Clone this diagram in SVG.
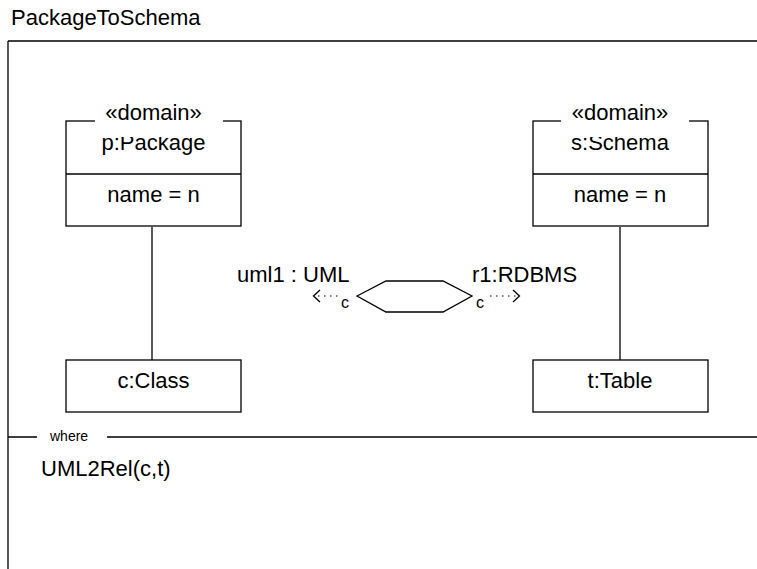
<svg xmlns="http://www.w3.org/2000/svg" width="757" height="569" viewBox="0 0 757 569">
<style>
text{font-family:"Liberation Sans",Arial,sans-serif;fill:#000}
.t22{font-size:22px}
.t16{font-size:16px}
.t14{font-size:14px}
.box{fill:#fff;stroke:#000;stroke-width:1.3}
.ln{stroke:#000;stroke-width:1.3;fill:none}
.dot{stroke:#000;stroke-width:1;stroke-dasharray:1.5,4.5;fill:none}
</style>
<rect width="757" height="569" fill="#fff"/>
<g id="frame">
<text class="t22" x="11" y="25">PackageToSchema</text>
<path class="ln" d="M8,41 H757 M8,41 V569"/>
<path class="ln" d="M8,437 H37 M107,437 H757"/>
<text class="t14" x="50" y="441">where</text>
<text class="t22" x="41" y="476">UML2Rel(c,t)</text>
</g>
<g id="connectors">
<line class="ln" x1="152" y1="227" x2="152" y2="360"/>
<line class="ln" x1="620" y1="227" x2="620" y2="360"/>
<line class="dot" x1="318" y1="296" x2="342" y2="296"/>
<path class="ln" stroke-width="1" d="M320,290 L313.5,296 L320,302"/>
<text class="t16" x="341" y="308">c</text>
<line class="dot" x1="490" y1="296" x2="516" y2="296"/>
<path class="ln" stroke-width="1" d="M513,290 L519.5,296 L513,302"/>
<text class="t16" x="476" y="308">c</text>
</g>
<g id="package">
<rect class="box" x="66" y="121" width="175" height="105"/>
<line class="ln" x1="66" y1="174" x2="241" y2="174"/>
<text class="t22" x="153.5" y="150" text-anchor="middle">p:Package</text>
<rect x="95" y="105" width="128" height="32" fill="#fff"/>
<text class="t22" x="153.5" y="120" text-anchor="middle">«domain»</text>
<text class="t22" x="153.5" y="202" text-anchor="middle">name = n</text>
</g>
<g id="schema">
<rect class="box" x="533" y="121" width="175" height="105"/>
<line class="ln" x1="533" y1="174" x2="708" y2="174"/>
<text class="t22" x="620" y="150" text-anchor="middle">s:Schema</text>
<rect x="561" y="105" width="128" height="32" fill="#fff"/>
<text class="t22" x="620" y="120" text-anchor="middle">«domain»</text>
<text class="t22" x="620" y="202" text-anchor="middle">name = n</text>
</g>
<g id="class">
<rect class="box" x="66" y="360" width="175" height="52"/>
<text class="t22" x="153.5" y="388" text-anchor="middle">c:Class</text>
</g>
<g id="table">
<rect class="box" x="533" y="360" width="175" height="52"/>
<text class="t22" x="620" y="388" text-anchor="middle">t:Table</text>
</g>
<g id="relation">
<polygon class="box" points="357,296 386,281 443,281 472,296 443,312 386,312"/>
<text class="t22" x="237" y="282">uml1 : UML</text>
<text class="t22" x="472" y="282">r1:RDBMS</text>
</g>
</svg>
